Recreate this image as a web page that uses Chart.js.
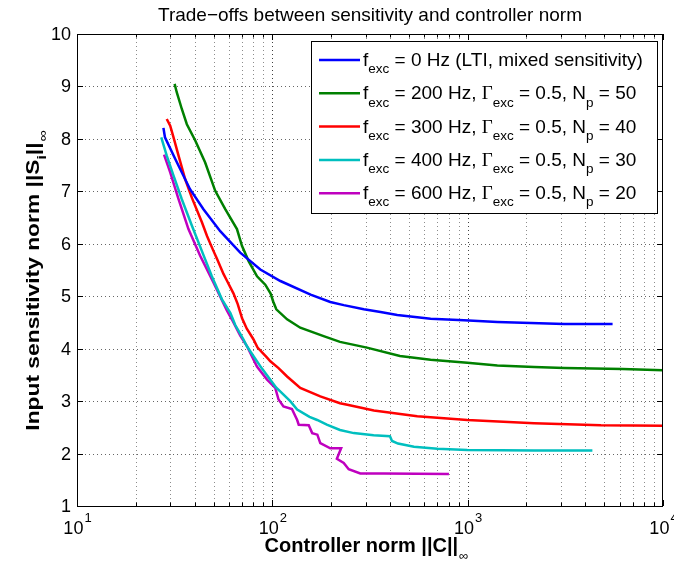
<!DOCTYPE html>
<html>
<head>
<meta charset="utf-8">
<script src="https://cdn.jsdelivr.net/npm/chart.js@4"></script>
<style>
html,body{margin:0;padding:0;background:#fff;}
#wrap{width:674px;height:567px;}
</style>
</head>
<body>
<div id="wrap"><canvas id="c" width="674" height="567"></canvas></div>
<script>
// ---- data ----
const xTicks = [10, 100, 1000, 10000];
const yTicks = [1,2,3,4,5,6,7,8,9,10];

const x0 = [27.7, 28.2, 31.8, 37.9, 44.4, 54.1, 68.5, 86.8, 110, 157, 198, 232, 294, 358, 436, 646, 957, 1419, 2104, 3120, 5520];
const y0 = [8.21, 8.03, 7.62, 7.04, 6.66, 6.24, 5.83, 5.51, 5.29, 5.03, 4.89, 4.83, 4.75, 4.70, 4.64, 4.57, 4.54, 4.51, 4.49, 4.47, 4.47];

const x200 = [31.6, 32.4, 34.4, 36.5, 40.3, 45.3, 51.0, 57.4, 65.9, 69.9, 75.6, 83.5, 92, 98, 101, 104.8, 119, 139, 183, 222, 305, 450, 646, 996, 1419, 2188, 3120, 6200, 10000];
const y200 = [9.05, 8.89, 8.57, 8.28, 7.97, 7.55, 7.01, 6.66, 6.28, 5.96, 5.67, 5.38, 5.22, 5.05, 4.90, 4.75, 4.56, 4.40, 4.24, 4.13, 4.02, 3.86, 3.79, 3.73, 3.68, 3.65, 3.63, 3.61, 3.59];

const x300 = [28.8, 30.0, 31.2, 33.1, 35.8, 38.8, 43.6, 46.3, 50, 52, 56.3, 58.5, 63.3, 66.5, 70, 74, 80, 84, 94, 97.7, 107.6, 119, 139, 176, 222, 242, 331, 552, 996, 2188, 4810, 10000];
const y300 = [8.38, 8.25, 8.03, 7.68, 7.23, 6.87, 6.41, 6.15, 5.86, 5.72, 5.42, 5.30, 5.05, 4.85, 4.58, 4.38, 4.18, 4.02, 3.83, 3.76, 3.63, 3.47, 3.25, 3.09, 2.96, 2.93, 2.82, 2.71, 2.64, 2.58, 2.54, 2.53];

const x400 = [27.0, 28.8, 31.2, 34.4, 38.8, 43.6, 49, 55.2, 61, 64.6, 71.3, 74, 80.3, 88.5, 104.5, 123.5, 134, 155, 169.6, 190, 222, 261, 330, 400, 410, 440, 531, 700, 996, 2188, 4350];
const y400 = [8.03, 7.68, 7.30, 6.85, 6.34, 5.86, 5.38, 4.94, 4.68, 4.45, 4.17, 4.05, 3.85, 3.62, 3.26, 3.00, 2.84, 2.70, 2.64, 2.55, 2.45, 2.39, 2.35, 2.33, 2.24, 2.19, 2.13, 2.09, 2.07, 2.06, 2.06];

const x600 = [27.9, 30.0, 33.1, 37.2, 42.7, 50, 58.5, 62, 68.5, 74.1, 83.4, 94, 103.5, 107.6, 114, 126, 134, 136.5, 153.6, 160, 170, 176, 198, 225, 214, 232, 246, 282, 372, 802];
const y600 = [7.70, 7.36, 6.85, 6.28, 5.77, 5.26, 4.73, 4.56, 4.25, 4.05, 3.66, 3.41, 3.25, 3.03, 2.90, 2.85, 2.64, 2.55, 2.54, 2.39, 2.36, 2.20, 2.10, 2.10, 1.90, 1.82, 1.70, 1.62, 1.62, 1.61];

const seriesColors = ['#0000ff', '#008000', '#ff0000', '#00bfbf', '#bf00bf'];
const legendLabels = [
  [['f'], ['exc','sub'], [' = 0 Hz (LTI, mixed sensitivity)']],
  [['f'], ['exc','sub'], [' = 200 Hz, '], ['Γ','g'], ['exc','sub'], [' = 0.5, N'], ['p','sub'], [' = 50']],
  [['f'], ['exc','sub'], [' = 300 Hz, '], ['Γ','g'], ['exc','sub'], [' = 0.5, N'], ['p','sub'], [' = 40']],
  [['f'], ['exc','sub'], [' = 400 Hz, '], ['Γ','g'], ['exc','sub'], [' = 0.5, N'], ['p','sub'], [' = 30']],
  [['f'], ['exc','sub'], [' = 600 Hz, '], ['Γ','g'], ['exc','sub'], [' = 0.5, N'], ['p','sub'], [' = 20']]
];
const titleText = 'Trade−offs between sensitivity and controller norm';

function pts(xs, ys){ return xs.map((x,i)=>({x:x, y:ys[i]})); }
const allX = [x0, x200, x300, x400, x600];
const allY = [y0, y200, y300, y400, y600];

const FONT = '"Liberation Sans", Arial, Helvetica, sans-serif';

function drawRich(ctx, segs, x, y, size, subSize){
  let cx = x;
  for (const s of segs){
    const t = s[0], kind = s[1];
    if (kind === 'sub'){
      ctx.font = subSize + 'px ' + FONT;
      ctx.fillText(t, cx, y + size*0.38);
    } else if (kind === 'g'){
      ctx.font = size + 'px "Liberation Serif", "Times New Roman", serif';
      ctx.fillText(t, cx, y);
    } else {
      ctx.font = size + 'px ' + FONT;
      ctx.fillText(t, cx, y);
    }
    cx += ctx.measureText(t).width;
  }
  return cx;
}

const matlabPlugin = {
  id: 'matlab',
  beforeDatasetsDraw(chart){
    const ctx = chart.ctx, a = chart.chartArea;
    const xs = chart.scales.x, ys = chart.scales.y;
    ctx.save();
    ctx.lineWidth = 1;
    ctx.setLineDash([1,3]);
    for (let d = 1; d < 4; d++){
      for (let m = 1; m <= 9; m++){
        const v = m * Math.pow(10, d);
        if (v <= 10 || v >= 10000) continue;
        const px = Math.round(xs.getPixelForValue(v)) + 0.5;
        ctx.strokeStyle = (m === 1) ? 'rgba(0,0,0,0.75)' : 'rgba(0,0,0,0.45)';
        ctx.beginPath(); ctx.moveTo(px, a.top); ctx.lineTo(px, a.bottom); ctx.stroke();
      }
    }
    ctx.strokeStyle = 'rgba(0,0,0,0.6)';
    for (const t of yTicks){
      if (t <= 1 || t >= 10) continue;
      const py = Math.round(ys.getPixelForValue(t)) + 0.5;
      ctx.beginPath(); ctx.moveTo(a.left, py); ctx.lineTo(a.right, py); ctx.stroke();
    }
    ctx.restore();
  },
  afterDraw(chart){
    const ctx = chart.ctx, a = chart.chartArea;
    const xs = chart.scales.x, ys = chart.scales.y;
    ctx.save();
    ctx.setLineDash([]);
    ctx.strokeStyle = '#000';
    ctx.lineWidth = 1;
    ctx.strokeRect(a.left + 0.5, a.top + 0.5, a.right - a.left - 1, a.bottom - a.top);
    for (let d = 1; d <= 4; d++){
      for (let m = 1; m <= 9; m++){
        const v = m * Math.pow(10, d);
        if (v < 10 || v > 10000) continue;
        const px = Math.round(xs.getPixelForValue(v)) + 0.5;
        const len = (m === 1) ? 6 : 3.5;
        ctx.beginPath();
        ctx.moveTo(px, a.bottom); ctx.lineTo(px, a.bottom - len);
        ctx.moveTo(px, a.top); ctx.lineTo(px, a.top + len);
        ctx.stroke();
      }
    }
    for (const t of yTicks){
      const py = Math.round(ys.getPixelForValue(t)) + 0.5;
      ctx.beginPath();
      ctx.moveTo(a.left, py); ctx.lineTo(a.left + 6, py);
      ctx.moveTo(a.right, py); ctx.lineTo(a.right - 6, py);
      ctx.stroke();
    }
    ctx.fillStyle = '#000';
    ctx.font = '18px ' + FONT;
    ctx.textAlign = 'right';
    ctx.textBaseline = 'middle';
    for (const t of yTicks){
      ctx.fillText(String(t), a.left - 6, ys.getPixelForValue(t) + 1);
    }
    ctx.textBaseline = 'alphabetic';
    ctx.textAlign = 'left';
    for (const v of xTicks){
      const e = Math.round(Math.log10(v));
      ctx.font = '18px ' + FONT;
      const wb = ctx.measureText('10').width;
      ctx.font = '13px ' + FONT;
      const we = ctx.measureText(String(e)).width;
      const px = xs.getPixelForValue(v);
      const sx = px - (wb + we) / 2;
      ctx.font = '18px ' + FONT;
      ctx.fillText('10', sx, a.bottom + 28);
      ctx.font = '13px ' + FONT;
      ctx.fillText(String(e), sx + wb + 1, a.bottom + 16);
    }
    // title
    ctx.textAlign = 'center';
    ctx.font = '19px ' + FONT;
    ctx.fillText(titleText, (a.left + a.right) / 2, 21);
    // x label
    ctx.textAlign = 'left';
    ctx.font = 'bold 20px ' + FONT;
    const xl = 'Controller norm ||C||';
    const xlw = ctx.measureText(xl).width;
    ctx.font = '13px ' + FONT;
    const infw = ctx.measureText('∞').width;
    const xlx = (a.left + a.right) / 2 - (xlw + infw) / 2 - 4;
    ctx.font = 'bold 20px ' + FONT;
    ctx.fillText(xl, xlx, 552);
    ctx.font = '13px ' + FONT;
    ctx.fillText('∞', xlx + xlw + 1, 560);
    // y label (rotated, slightly stretched along its length)
    ctx.save();
    ctx.translate(39, 281);
    ctx.rotate(-Math.PI / 2);
    ctx.scale(1.2, 1);
    ctx.font = 'bold 19px ' + FONT;
    const p1 = 'Input sensitivity norm ||S', p2 = '||';
    const w1 = ctx.measureText(p1).width, w2 = ctx.measureText(p2).width;
    ctx.font = 'bold 13px ' + FONT;
    const wi = ctx.measureText('i').width;
    ctx.font = '13px ' + FONT;
    const wInf = ctx.measureText('∞').width;
    let lx = -(w1 + wi + w2 + wInf) / 2;
    ctx.font = 'bold 19px ' + FONT; ctx.fillText(p1, lx, 0); lx += w1;
    ctx.font = 'bold 13px ' + FONT; ctx.fillText('i', lx, 7); lx += wi;
    ctx.font = 'bold 19px ' + FONT; ctx.fillText(p2, lx, 0); lx += w2;
    ctx.font = '13px ' + FONT; ctx.fillText('∞', lx + 1, 8);
    ctx.restore();
    // legend
    const L = {left: 311, top: 41, right: 657, bottom: 213};
    ctx.fillStyle = '#fff';
    ctx.fillRect(L.left, L.top, L.right - L.left, L.bottom - L.top);
    ctx.strokeStyle = '#000';
    ctx.lineWidth = 1;
    ctx.strokeRect(L.left + 0.5, L.top + 0.5, L.right - L.left, L.bottom - L.top);
    for (let i = 0; i < legendLabels.length; i++){
      const cy = 60 + i * 33.3;
      ctx.strokeStyle = seriesColors[i];
      ctx.lineWidth = 2.5;
      ctx.beginPath(); ctx.moveTo(319, cy); ctx.lineTo(360, cy); ctx.stroke();
      ctx.fillStyle = '#000';
      ctx.textAlign = 'left';
      drawRich(ctx, legendLabels[i], 363, cy + 6, 19, 13.5);
    }
    ctx.restore();
  }
};

new Chart(document.getElementById('c'), {
  type: 'line',
  data: {
    datasets: allX.map((xs, i) => ({
      label: 'series' + i,
      data: pts(xs, allY[i]),
      borderColor: seriesColors[i],
      backgroundColor: seriesColors[i],
      borderWidth: 2.5,
      pointRadius: 0,
      tension: 0,
      fill: false
    }))
  },
  options: {
    responsive: false,
    animation: false,
    devicePixelRatio: 1,
    layout: { padding: { left: 77, top: 34, right: 11, bottom: 61 } },
    plugins: { legend: { display: false }, tooltip: { enabled: false }, title: { display: false } },
    scales: {
      x: { type: 'logarithmic', min: 10, max: 10000, display: false },
      y: { type: 'linear', min: 1, max: 10, display: false }
    }
  },
  plugins: [matlabPlugin]
});
</script>
</body>
</html>
